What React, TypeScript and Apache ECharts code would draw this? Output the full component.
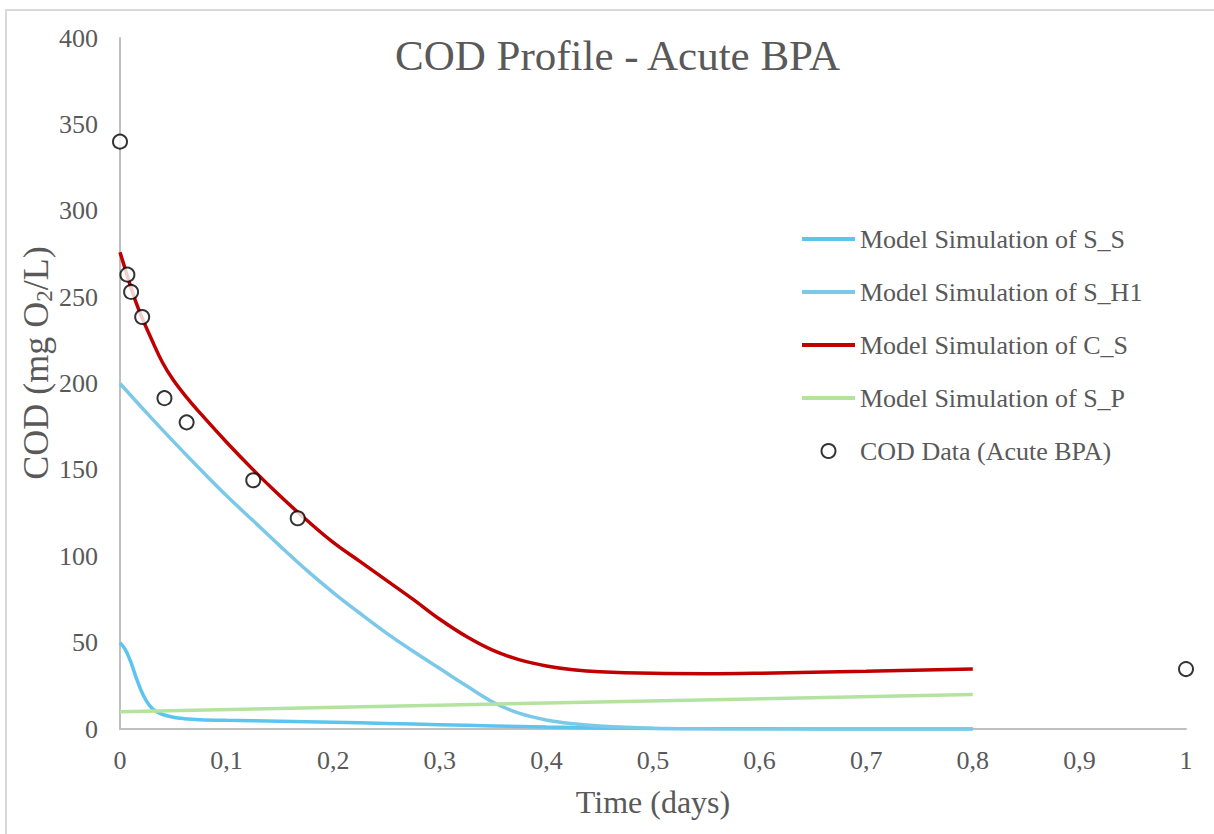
import React, { useEffect, useRef } from "react";
import * as echarts from "echarts";

const FONT = "Liberation Serif";
const TEXT = "#595959";

const seriesNames = [
  "Model Simulation of S_S",
  "Model Simulation of S_H1",
  "Model Simulation of C_S",
  "Model Simulation of S_P",
  "COD Data (Acute BPA)",
];

const sS: [number, number][] = [
  [0, 50], [0.005, 46], [0.01, 39], [0.015, 30], [0.02, 22], [0.025, 16],
  [0.03, 12], [0.035, 9.8], [0.04, 8.4], [0.05, 6.8], [0.06, 6], [0.075, 5.4],
  [0.1, 5], [0.15, 4.5], [0.2, 3.9], [0.25, 3.2], [0.3, 2.5], [0.35, 1.8],
  [0.4, 1.1], [0.45, 0.6], [0.5, 0.3], [0.6, 0.1], [0.7, 0], [0.8, 0],
];

const sH1: [number, number][] = [
  [0, 200], [0.025, 183], [0.05, 166.5], [0.075, 150.5], [0.1, 135], [0.125, 120.5],
  [0.15, 106], [0.175, 92], [0.2, 79], [0.225, 67], [0.25, 55.5], [0.275, 45],
  [0.3, 35], [0.325, 25], [0.35, 15.5], [0.375, 9], [0.4, 5.2], [0.425, 3],
  [0.45, 1.7], [0.5, 0.5], [0.55, 0.1], [0.6, 0], [0.8, 0],
];

const cS: [number, number][] = [
  [0, 276], [0.005, 266], [0.01, 256], [0.015, 247], [0.02, 239], [0.03, 225],
  [0.04, 212], [0.05, 202], [0.0625, 192], [0.075, 183], [0.1, 166], [0.125, 150],
  [0.15, 135], [0.175, 121], [0.2, 108], [0.225, 97], [0.25, 86], [0.275, 75],
  [0.3, 63.5], [0.325, 53.5], [0.35, 45.5], [0.375, 40], [0.4, 36.5], [0.425, 34.3],
  [0.45, 33.1], [0.5, 32.2], [0.55, 32], [0.6, 32.3], [0.7, 33.4], [0.8, 34.8],
];

const sP: [number, number][] = [
  [0, 10], [0.8, 20],
];

const codData: [number, number][] = [
  [0, 340], [0.00694, 263], [0.0104, 253], [0.0208, 238.5], [0.0417, 191.5],
  [0.0625, 177.5], [0.125, 144], [0.1667, 122], [1, 34.7],
];

const colors = ["#5BC5F0", "#7CC8E8", "#C00000", "#B4E3A0"];

const LINE_ICON = "path://M0,0H53V4H0Z";

export default function App() {
  const ref = useRef<HTMLDivElement>(null);
  useEffect(() => {
    if (!ref.current) return;
    const chart = echarts.init(ref.current, undefined, { renderer: "svg" });
    const lineData = [sS, sH1, cS, sP];
    const lineSeries = lineData.map((d, i) => ({
      name: seriesNames[i],
      type: "line",
      data: d,
      symbol: "none",
      symbolKeepAspect: true,
      smooth: 0.4,
      lineStyle: { color: colors[i], width: 3.5 },
      itemStyle: { color: colors[i] },
      z: 2 + (i === 2 ? 1 : 0),
    }));
    chart.setOption({
      animation: false,
      backgroundColor: "#ffffff",
      textStyle: { fontFamily: FONT },
      title: {
        text: "COD Profile - Acute BPA",
        left: 390,
        top: 29,
        textStyle: { fontFamily: FONT, fontSize: 43, fontWeight: "normal", color: TEXT },
      },
      grid: { left: 120, right: 28, top: 38, bottom: 105 },
      legend: {
        orient: "vertical",
        left: 802,
        top: 226,
        padding: 0,
        itemWidth: 53,
        itemHeight: 14,
        itemGap: 27,
        symbolKeepAspect: true,
        data: seriesNames.map((n, i) =>
          i === 4 ? { name: n, icon: "circle" } : { name: n, icon: LINE_ICON }
        ),
        textStyle: { fontFamily: FONT, fontSize: 26, color: TEXT },
      },
      xAxis: {
        type: "value",
        min: 0,
        max: 1,
        interval: 0.1,
        name: "Time (days)",
        nameLocation: "middle",
        nameGap: 57,
        nameTextStyle: { fontFamily: FONT, fontSize: 32, color: TEXT },
        axisLine: { show: true, lineStyle: { color: "#BFBFBF", width: 2 } },
        axisTick: { show: false },
        splitLine: { show: false },
        axisLabel: {
          fontFamily: FONT,
          fontSize: 26,
          color: TEXT,
          margin: 18,
          formatter: (v: number) => String(Math.round(v * 10) / 10).replace(".", ","),
        },
      },
      yAxis: {
        type: "value",
        min: 0,
        max: 400,
        interval: 50,
        axisLine: { show: true, lineStyle: { color: "#BFBFBF", width: 2 } },
        axisTick: { show: false },
        splitLine: { show: false },
        axisLabel: { fontFamily: FONT, fontSize: 26, color: TEXT, margin: 22 },
      },
      graphic: [
        {
          type: "rect",
          shape: { x: 6, y: 10, width: 1220, height: 840 },
          style: { fill: "none", stroke: "#D9D9D9", lineWidth: 2 },
          silent: true,
          z: -10,
        },
        {
          type: "text",
          x: 36,
          y: 363,
          rotation: Math.PI / 2,
          style: {
            text: "COD (mg O{sub|2}/L)",
            fontFamily: FONT,
            fontSize: 36,
            fill: TEXT,
            align: "center",
            verticalAlign: "middle",
            rich: {
              sub: { fontFamily: FONT, fontSize: 23, fill: TEXT, padding: [16, 0, 0, 0] },
            },
          },
        },
      ],
      series: [
        ...lineSeries,
        {
          name: seriesNames[4],
          type: "scatter",
          data: codData,
          symbol: "circle",
          symbolSize: 14,
          itemStyle: { color: "#ffffff", borderColor: "#000000", borderWidth: 2 },
          z: 5,
        },
      ],
    });
    return () => chart.dispose();
  }, []);
  return (
    <div
      ref={ref}
      style={{ position: "fixed", left: 0, top: 0, width: 1214, height: 834 }}
    />
  );
}
